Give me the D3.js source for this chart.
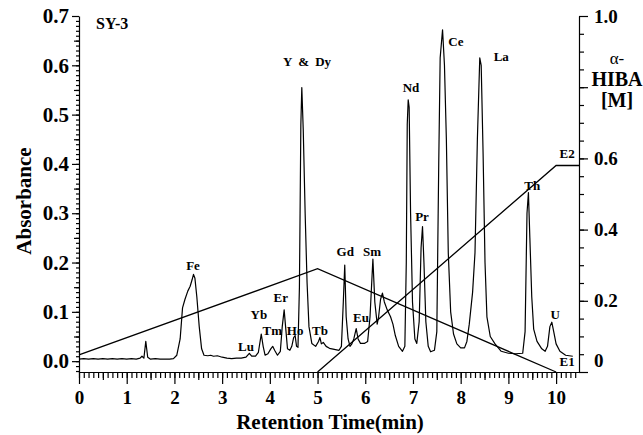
<!DOCTYPE html>
<html>
<head>
<meta charset="utf-8">
<script src="https://cdn.jsdelivr.net/npm/d3@7/dist/d3.min.js"></script>
<style>
  body { margin: 0; background: #fff; }
  svg, svg text { font-family: "Liberation Serif", "Times New Roman", serif; }
  .axis path, .axis line { stroke: #000; stroke-width: 1.2; }
  .axis text { font-weight: bold; fill: #000; }
</style>
</head>
<body>
<div id="chart"></div>
<script>
// chromatogram trace (time in min, absorbance)
const retTime = [0.00,0.10,0.20,0.30,0.40,0.50,0.60,0.70,0.80,0.90,1.00,1.10,1.20,1.28,1.32,1.36,1.40,1.44,1.50,1.60,
  1.70,1.80,1.90,1.98,2.05,2.12,2.17,2.22,2.28,2.33,2.37,2.40,2.43,2.47,2.52,2.57,2.62,2.70,2.76,2.82,
  2.90,3.00,3.10,3.20,3.30,3.40,3.50,3.57,3.62,3.70,3.76,3.82,3.86,3.90,3.96,4.02,4.06,4.10,4.16,4.22,
  4.26,4.30,4.33,4.37,4.42,4.46,4.50,4.53,4.56,4.59,4.62,4.65,4.67,4.70,4.74,4.78,4.82,4.88,4.96,5.02,
  5.05,5.08,5.12,5.18,5.25,5.35,5.45,5.50,5.54,5.57,5.60,5.64,5.68,5.72,5.76,5.81,5.85,5.90,5.98,6.05,
  6.10,6.16,6.20,6.25,6.28,6.32,6.36,6.40,6.46,6.53,6.58,6.63,6.70,6.78,6.83,6.86,6.88,6.90,6.92,6.95,
  6.99,7.04,7.08,7.13,7.17,7.20,7.23,7.27,7.32,7.37,7.45,7.50,7.54,7.57,7.62,7.66,7.70,7.74,7.79,7.85,
  7.92,8.00,8.08,8.13,8.18,8.25,8.30,8.35,8.40,8.43,8.47,8.51,8.55,8.62,8.72,8.85,9.00,9.15,9.30,9.35,
  9.39,9.42,9.45,9.49,9.53,9.60,9.70,9.77,9.82,9.87,9.91,9.95,10.00,10.08,10.20,10.35];
const absorbance = [0.004,0.005,0.004,0.005,0.004,0.005,0.004,0.005,0.004,0.005,0.004,0.005,0.004,0.006,0.010,0.006,0.040,0.008,0.004,0.005,
  0.004,0.004,0.004,0.005,0.012,0.045,0.108,0.125,0.142,0.152,0.165,0.176,0.168,0.130,0.070,0.025,0.012,0.011,0.012,0.010,
  0.011,0.008,0.006,0.005,0.006,0.006,0.008,0.016,0.010,0.010,0.018,0.055,0.030,0.012,0.015,0.025,0.030,0.022,0.012,0.020,
  0.070,0.104,0.070,0.025,0.022,0.030,0.048,0.052,0.030,0.028,0.150,0.480,0.555,0.470,0.300,0.160,0.070,0.036,0.030,0.040,
  0.048,0.035,0.038,0.030,0.026,0.024,0.022,0.030,0.120,0.195,0.090,0.045,0.030,0.035,0.045,0.066,0.045,0.036,0.036,0.040,
  0.090,0.207,0.120,0.075,0.090,0.125,0.138,0.120,0.104,0.090,0.075,0.052,0.030,0.020,0.030,0.200,0.480,0.530,0.515,0.300,
  0.120,0.045,0.036,0.080,0.230,0.273,0.200,0.080,0.030,0.019,0.022,0.060,0.400,0.615,0.672,0.600,0.450,0.220,0.100,0.055,
  0.035,0.027,0.027,0.040,0.075,0.140,0.220,0.450,0.615,0.600,0.420,0.200,0.090,0.050,0.035,0.020,0.016,0.015,0.016,0.060,
  0.300,0.342,0.250,0.130,0.065,0.040,0.025,0.020,0.030,0.070,0.079,0.060,0.035,0.020,0.012,0.010];

// eluent gradient (right axis, alpha-HIBA [M])
const e1Time = [0, 5, 10];
const e1Conc = [0.048, 0.29, 0];
const e2Time = [5, 10, 10.48];
const e2Conc = [0, 0.58, 0.58];

// peak annotations, anchored in data units
const peakNames = ["Fe","Lu","Yb","Tm","Er","Ho","Y & Dy","Tb","Gd","Eu","Sm","Nd","Pr","Ce","La","Th","U"];
const peakTimes = [2.39,3.50,3.77,4.05,4.23,4.53,4.78,5.05,5.58,5.91,6.14,6.96,7.19,7.90,8.85,9.50,9.98];
const peakAbs   = [0.184,0.020,0.086,0.054,0.120,0.054,0.598,0.054,0.213,0.079,0.213,0.545,0.285,0.640,0.608,0.348,0.085];

const xTicks = d3.range(0, 11);
const leftTicks = [0, 0.1, 0.2, 0.3, 0.4, 0.5, 0.6, 0.7];
const rightTicks = [0, 0.2, 0.4, 0.6, 0.8, 1.0];
const rightTickLabels = ["0", "0.2", "0.4", "0.6", "", "1.0"];

const serif = '"Liberation Serif", "Times New Roman", serif';
const W = 643, H = 435;
const svg = d3.select('#chart').append('svg').attr('width', W).attr('height', H);

const x = d3.scaleLinear().domain([0, 10.48]).range([79, 579]);
const yL = d3.scaleLinear().domain([-0.022, 0.7]).range([372, 16]);
const yR = d3.scaleLinear().domain([0, 1]).range([372, 16]);

// x axis: minor, medium, major
svg.append('g').attr('class','axis').attr('transform','translate(0,372)')
  .call(d3.axisBottom(x).tickValues(d3.range(0, 10.45, 0.1)).tickSize(6).tickSizeOuter(0).tickFormat(''))
  .call(g => g.select('.domain').remove());
svg.append('g').attr('class','axis').attr('transform','translate(0,372)')
  .call(d3.axisBottom(x).tickValues(d3.range(0.5, 10.5, 1)).tickSize(8).tickFormat(''))
  .call(g => g.select('.domain').remove());
svg.append('g').attr('class','axis').attr('transform','translate(0,372)')
  .call(d3.axisBottom(x).tickValues(xTicks).tickSize(12).tickSizeOuter(0).tickPadding(6).tickFormat(d3.format('d')))
  .attr('font-family', serif)
  .call(g => g.selectAll('text').style('font-size','19px').style('font-family', serif).attr('dy','0.75em'));

// left axis
svg.append('g').attr('class','axis').attr('transform','translate(79,0)')
  .call(d3.axisLeft(yL).tickValues(d3.range(-0.02, 0.7, 0.01)).tickSize(3).tickFormat(''))
  .call(g => g.select('.domain').remove());
svg.append('g').attr('class','axis').attr('transform','translate(79,0)')
  .call(d3.axisLeft(yL).tickValues(d3.range(0.05, 0.7, 0.1)).tickSize(5).tickFormat(''))
  .call(g => g.select('.domain').remove());
svg.append('g').attr('class','axis').attr('transform','translate(79,0)')
  .call(d3.axisLeft(yL).tickValues(leftTicks).tickSize(7).tickSizeOuter(0).tickPadding(3).tickFormat(d3.format('.1f')))
  .attr('font-family', serif)
  .call(g => g.selectAll('text').style('font-size','21px').style('font-family', serif));

// right axis
svg.append('g').attr('class','axis').attr('transform','translate(579,0)')
  .call(d3.axisRight(yR).tickValues(d3.range(0.05, 1, 0.05)).tickSize(5).tickFormat(''))
  .call(g => g.select('.domain').remove());
svg.append('g').attr('class','axis').attr('transform','translate(579,0)')
  .call(d3.axisRight(yR).tickValues(rightTicks).tickSize(9).tickSizeOuter(0).tickPadding(6)
    .tickFormat((d, i) => rightTickLabels[i]))
  .attr('font-family', serif)
  .call(g => g.selectAll('text').style('font-size','19px').style('font-family', serif))
  .call(g => g.selectAll('.tick').filter(d => d === 0).select('text').attr('y', -12));

// gradient lines
const gline = d3.line().x(d => x(d[0])).y(d => yR(d[1]));
svg.append('path').datum(d3.zip(e1Time, e1Conc)).attr('d', gline)
  .attr('fill','none').attr('stroke','#000').attr('stroke-width',1.3);
svg.append('path').datum(d3.zip(e2Time, e2Conc)).attr('d', gline)
  .attr('fill','none').attr('stroke','#000').attr('stroke-width',1.3);

// chromatogram
const trace = d3.line().x(d => x(d[0])).y(d => yL(d[1]));
svg.append('path').datum(d3.zip(retTime, absorbance)).attr('d', trace)
  .attr('fill','none').attr('stroke','#000').attr('stroke-width',1.2).attr('stroke-linejoin','round');

// peak labels
svg.append('g').selectAll('text')
  .data(peakNames)
  .join('text')
  .attr('x', (d, i) => x(peakTimes[i]))
  .attr('y', (d, i) => yL(peakAbs[i]))
  .attr('text-anchor','middle')
  .style('font-weight','bold').style('font-size','13px')
  .style('word-spacing', d => d === 'Y & Dy' ? '3px' : null)
  .text(d => d);

// eluent labels
svg.append('text').attr('x', x(10.23)).attr('y', yR(0.60)).attr('text-anchor','middle')
  .style('font-weight','bold').style('font-size','13px').text('E2');
svg.append('text').attr('x', x(10.23)).attr('y', yR(0.017)).attr('text-anchor','middle')
  .style('font-weight','bold').style('font-size','13px').text('E1');

// sample name
svg.append('text').attr('x', 96).attr('y', 29)
  .style('font-weight','bold').style('font-size','16px').text('SY-3');

// axis titles
svg.append('text').attr('x', 330).attr('y', 429).attr('text-anchor','middle')
  .style('font-weight','bold').style('font-size','21px').text('Retention Time(min)');
svg.append('text').attr('transform','translate(31,201) rotate(-90)').attr('text-anchor','middle')
  .style('font-weight','bold').style('font-size','21px').text('Absorbance');

const rt = svg.append('g').attr('text-anchor','middle');
rt.append('text').attr('x', 617).attr('y', 64).style('font-size','17px').text('\u03b1-');
rt.append('text').attr('x', 617).attr('y', 86).style('font-weight','bold').style('font-size','20px').text('HIBA');
rt.append('text').attr('x', 617).attr('y', 107).style('font-weight','bold').style('font-size','20px').text('[M]');
</script>
</body>
</html>
